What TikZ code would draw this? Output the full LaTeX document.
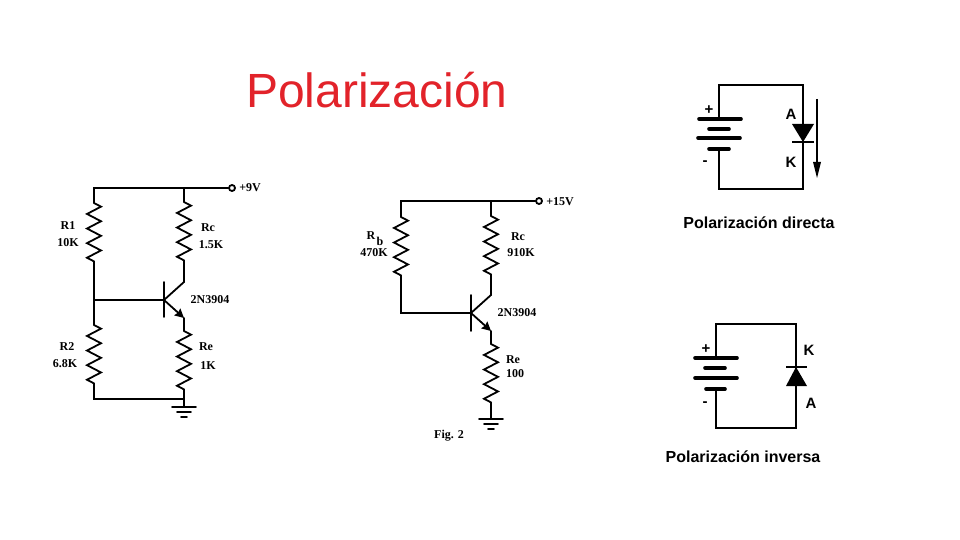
\documentclass[tikz,border=0pt]{standalone}
\usepackage{fontspec}
\setmainfont{Liberation Serif}
\setsansfont{Liberation Sans}
\usetikzlibrary{decorations.pathmorphing,arrows.meta}
\definecolor{rojo}{RGB}{226,35,42}
\tikzset{
    wire/.style={line width=1.8pt, line cap=round},
    thin wire/.style={line width=1.7pt, line cap=round},
    resistor/.style={wire, line join=miter, decorate, decoration={zigzag, amplitude=7pt, segment length=14.6pt}},
    terminal/.style={circle, draw, line width=1.8pt, fill=white, inner sep=0pt, minimum size=6pt},
    val/.style={font=\bfseries\fontsize{12}{14}\selectfont, inner sep=0pt},
    sans/.style={font=\sffamily\bfseries\fontsize{16}{18}\selectfont, inner sep=0pt},
    signo/.style={font=\sffamily\bfseries\fontsize{15}{16}\selectfont, inner sep=0pt},
    plate/.style={line width=3.6pt, line cap=round},
    tip/.style={-{Stealth[length=9pt, width=9pt, inset=1pt]}},
    gnd/.pic={
        \draw[wire] (-12,0) -- (12,0);
        \draw[wire] (-7,5) -- (7,5);
        \draw[wire] (-3,10) -- (3,10);
    }
}
\begin{document}
\begin{tikzpicture}[x=1pt, y=-1pt]
    \useasboundingbox[fill=white] (0,0) rectangle (960,540);
    \node[font=\sffamily\fontsize{48}{52}\selectfont, text=rojo, inner sep=0pt] (titulo) at (377,90) {Polarización};

    % primer circuito
    \coordinate (tl1) at (94,188);
    \coordinate (tr1) at (184,188);
    \coordinate (r1a) at (94,203);
    \coordinate (r1b) at (94,264);
    \coordinate (n1) at (94,300);
    \coordinate (r2a) at (94,325);
    \coordinate (r2b) at (94,387);
    \coordinate (bl1) at (94,399);
    \coordinate (br1) at (184,399);
    \coordinate (rca) at (184,202);
    \coordinate (rcb) at (184,264);
    \coordinate (c1) at (184,282);
    \coordinate (e1) at (184,318);
    \coordinate (rea) at (184,331);
    \coordinate (reb) at (184,392);
    \coordinate (b1) at (164,300);
    \coordinate (b1t) at (164,282);
    \coordinate (b1d) at (164,317);
    \coordinate (g1) at (184,407);
    \node[terminal] (v1) at (232,188) {};
    \draw[wire] (r1a) -- (tl1) -- (v1);
    \draw[wire] (tr1) -- (rca);
    \draw[resistor] (r1a) -- (r1b);
    \draw[resistor] (r2a) -- (r2b);
    \draw[resistor] (rca) -- (rcb);
    \draw[resistor] (rea) -- (reb);
    \draw[wire] (r1b) -- (r2a);
    \draw[wire] (r2b) -- (bl1) -- (br1);
    \draw[wire] (n1) -- (b1);
    \draw[wire] (b1t) -- (b1d);
    \draw[wire] (rcb) -- (c1) -- (b1);
    \draw[wire, tip] (b1) -- (e1);
    \draw[wire] (e1) -- (rea);
    \draw[wire] (reb) -- (g1);
    \pic at (g1) {gnd};
    \node[val] (lv1) at (250,188) {+9V};
    \node[val] (lr1) at (68,226) {R1};
    \node[val] (lr1v) at (68,243) {10K};
    \node[val] (lrc) at (208,228) {Rc};
    \node[val] (lrcv) at (211,245) {1.5K};
    \node[val] (lq1) at (210,300) {2N3904};
    \node[val] (lr2) at (67,347) {R2};
    \node[val] (lr2v) at (65,364) {6.8K};
    \node[val] (lre) at (206,347) {Re};
    \node[val] (lrev) at (208,366) {1K};

    % segundo circuito
    \coordinate (tl2) at (401,201);
    \coordinate (tr2) at (491,201);
    \coordinate (rba) at (401,217);
    \coordinate (rbb) at (401,278);
    \coordinate (bl2) at (401,313);
    \coordinate (rc2a) at (491,216);
    \coordinate (rc2b) at (491,276);
    \coordinate (c2) at (491,295);
    \coordinate (e2) at (491,331);
    \coordinate (re2a) at (491,344);
    \coordinate (re2b) at (491,405);
    \coordinate (b2) at (471,313);
    \coordinate (b2t) at (471,295);
    \coordinate (b2d) at (471,331);
    \coordinate (g2) at (491,419);
    \node[terminal] (v2) at (539,201) {};
    \draw[wire] (rba) -- (tl2) -- (v2);
    \draw[wire] (tr2) -- (rc2a);
    \draw[resistor] (rba) -- (rbb);
    \draw[resistor] (rc2a) -- (rc2b);
    \draw[resistor] (re2a) -- (re2b);
    \draw[wire] (rbb) -- (bl2) -- (b2);
    \draw[wire] (b2t) -- (b2d);
    \draw[wire] (rc2b) -- (c2) -- (b2);
    \draw[wire, tip] (b2) -- (e2);
    \draw[wire] (e2) -- (re2a);
    \draw[wire] (re2b) -- (g2);
    \pic at (g2) {gnd};
    \node[val] (lv2) at (560,202) {+15V};
    \node[val] (lrb) at (371,236) {R};
    \node[val] (lrbs) at (380,241) {b};
    \node[val] (lrbv) at (374,253) {470K};
    \node[val] (lrc2) at (518,237) {Rc};
    \node[val] (lrc2v) at (521,253) {910K};
    \node[val] (lq2) at (517,313) {2N3904};
    \node[val] (lre2) at (513,360) {Re};
    \node[val] (lre2v) at (515,374) {100};
    \node[val] (lfig) at (449,436) {Fig. 2};

    % polarizacion directa
    \coordinate (bd1) at (719,119);
    \coordinate (bd2) at (719,149);
    \coordinate (d1tl) at (719,85);
    \coordinate (d1tr) at (803,85);
    \coordinate (d1bl) at (719,189);
    \coordinate (d1br) at (803,189);
    \coordinate (d1a) at (792,124);
    \coordinate (d1b) at (814,124);
    \coordinate (d1k) at (803,142);
    \coordinate (d1p) at (792,142);
    \coordinate (d1q) at (814,142);
    \coordinate (fa) at (817,99);
    \coordinate (fb) at (817,178);
    \draw[thin wire] (bd1) -- (d1tl) -- (d1tr) -- (d1br) -- (d1bl) -- (bd2);
    \foreach \y/\a/\b in {119/699/741, 129/709/729, 138/698/740, 149/709/729}
        \draw[plate] (\a,\y) -- (\b,\y);
    \fill (d1a) -- (d1b) -- (d1k) -- cycle;
    \draw[line width=2.4pt] (d1p) -- (d1q);
    \draw[line width=1.4pt] (fa) -- (817,165);
    \fill (813,162) -- (821,162) -- (fb) -- cycle;
    \node[signo] (mas1) at (709,110) {+};
    \node[signo] (men1) at (705,163) {-};
    \node[signo] (a1) at (791,114) {A};
    \node[signo] (k1) at (791,162) {K};
    \node[sans] (dir) at (759,223) {Polarización directa};

    % polarizacion inversa
    \coordinate (bi1) at (716,358);
    \coordinate (bi2) at (716,389);
    \coordinate (d2tl) at (716,324);
    \coordinate (d2tr) at (796,324);
    \coordinate (d2bl) at (716,428);
    \coordinate (d2br) at (796,428);
    \coordinate (d2a) at (786,386);
    \coordinate (d2b) at (807,386);
    \coordinate (d2k) at (796,367);
    \coordinate (d2p) at (786,367);
    \coordinate (d2q) at (807,367);
    \draw[thin wire] (bi1) -- (d2tl) -- (d2tr) -- (d2br) -- (d2bl) -- (bi2);
    \foreach \y/\a/\b in {358/695/737, 368/705/725, 378/695/737, 389/706/725}
        \draw[plate] (\a,\y) -- (\b,\y);
    \fill (d2a) -- (d2b) -- (d2k) -- cycle;
    \draw[line width=2.4pt] (d2p) -- (d2q);
    \node[signo] (mas2) at (706,349) {+};
    \node[signo] (men2) at (705,404) {-};
    \node[signo] (k2) at (809,350) {K};
    \node[signo] (a2) at (811,403) {A};
    \node[sans] (inv) at (743,457) {Polarización inversa};
\end{tikzpicture}
\end{document}
